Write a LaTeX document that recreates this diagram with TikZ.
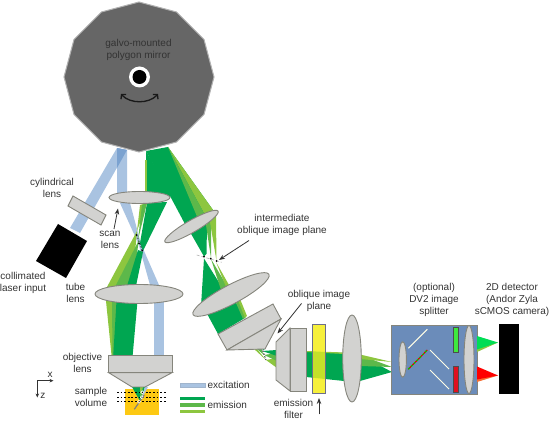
\documentclass[tikz,border=0pt]{standalone}
\usepackage{fontspec}
\setmainfont{Liberation Sans}
\usetikzlibrary{arrows.meta}
\definecolor{gdark}{HTML}{00A651}
\definecolor{gmid}{HTML}{5DB84A}
\definecolor{glight}{HTML}{8DC63F}
\definecolor{exc}{HTML}{A9C3E1}
\definecolor{excd}{HTML}{7BA2D0}
\definecolor{optic}{HTML}{D2D2D0}
\definecolor{edge}{HTML}{85857C}
\definecolor{txt}{HTML}{333333}
\definecolor{split}{HTML}{6B8CBA}
\definecolor{filt}{HTML}{F6F03C}
\definecolor{filtg}{HTML}{C4E02A}
\tikzset{
  lbl/.style={font=\fontsize{10}{12}\selectfont,text=txt,align=center,inner sep=0pt},
  optics/.style={fill=optic,draw=edge,line width=0.9pt},
  note/.style={draw=txt,line width=0.8pt,-{Stealth[length=6pt,width=4.5pt]}},
  dk/.style={fill=gdark},md/.style={fill=gmid},lt/.style={fill=glight},
  blu/.style={fill=exc},
  plane/.style={black,line width=0.6pt,dash pattern=on 1.5pt off 1.5pt},
  mirrorline/.style={draw=white!90!yellow,line width=1pt}
}
\begin{document}
\begin{tikzpicture}[x=1pt,y=-1pt]
\useasboundingbox (0,0) rectangle (550,422);
% excitation
\fill[blu] (117,148)--(127,150)--(80,233)--(70,228)--cycle;
\fill[blu] (117,148)--(127,150)--(127,198)--(117,198)--cycle;
\fill[excd] (117,148)--(127,150)--(117,168)--cycle;
\fill[blu] (120,203)--(130,203)--(141,244)--(159,285)--(150,285)--(138.5,244)--cycle;
\fill[blu] (154,298)--(164,298)--(164,356)--(154,356)--cycle;
% emission, upper left branch
\fill[dk] (146,151)--(172,196)--(146,198)--cycle;
\fill[lt] (145,160)--(146.5,160)--(146.5,198)--(145,198)--cycle;
\fill[dk] (147,203)--(167,202)--(143,251)--(140,243)--cycle;
\fill[lt] (140,205)--(147,203)--(137,231)--cycle;
\fill[md] (142,205)--(147,203)--(138,240)--cycle;
% left branch below crossing
\fill[lt] (137,231)--(132,286)--(107,287)--cycle;
\fill[md] (139,240)--(132,286)--(115,287)--cycle;
\fill[dk] (138,250)--(143,252)--(136,286)--(127,286)--cycle;
% tube to objective
\fill[lt] (106,301)--(114,301)--(113,355)--(111.5,355)--cycle;
\fill[md] (112,301)--(118,301)--(114,355)--(112.5,355)--cycle;
\fill[dk] (116.5,301)--(137.5,301)--(132.7,355)--(113.3,355)--cycle;
% right branch down to lens 2
\fill[dk] (146,151)--(168,147)--(213,210)--(185,224)--cycle;
\fill[lt] (168,147)--(213,210)--(205,215)--cycle;
\fill[md] (168,147)--(205,215)--(198,219)--cycle;
% lens 2 to intermediate plane
\fill[dk] (182,218)--(207,225)--(206.5,254)--(204,256.5)--cycle;
\fill[md] (206,225)--(211,220)--(211,258)--cycle;
\fill[lt] (210,222)--(216,215)--(216.5,261)--cycle;
% intermediate plane to lens 3
\fill[dk] (204,258.5)--(225,292)--(201,306)--cycle;
\fill[md] (211,259)--(227,286)--(221,290)--cycle;
\fill[lt] (216,262)--(229,285)--(226,287)--cycle;
% lens 3 to objective 2
\fill[dk] (205,310)--(232,296)--(245,318)--(218,334)--cycle;
\fill[md] (233,296)--(236,294)--(246,317)--(243,319)--cycle;
\fill[lt] (236,295)--(238,294)--(247,316)--(245,318)--cycle;
% nose of objective 2 to objective 3
\fill[lt] (253,348)--(257,349)--(266,360)--cycle;
\fill[md] (257,349)--(261,349)--(264,355)--cycle;
\fill[dk] (261,349)--(265,349)--(262,351)--cycle;
\fill[lt] (266,360)--(277,358)--(277,368)--cycle;
\fill[md] (264,355)--(277,353)--(277,361)--cycle;
\fill[dk] (262,351)--(277,350)--(277,356)--cycle;
% filter beam
\fill[dk] (306,351)--(344,353)--(344,381)--(306,377)--cycle;
\fill[lt] (306,351)--(344,352.5)--(344,354)--(306,352)--cycle;
% beam after lens 4
\fill[dk] (360,355)--(392,372)--(360,381)--cycle;
\fill[md] (360,355)--(392,367)--(360,366)--cycle;
\fill[lt] (360,354.5)--(392,362)--(360,359)--cycle;
% scan-crossing planes
\draw[plane] (136.7,235)--(142.3,250.7);
\fill (136.7,235) circle (1) (139,243.3) circle (1) (142.3,250.7) circle (1);
\draw[gray!60,line width=0.6pt,dash pattern=on 3pt off 2pt] (196.7,255)--(221.7,262.3);
\fill (204,256.7) circle (1) (210.7,258.7) circle (1) (216.7,261) circle (1);
\draw[white,line width=1pt] (261.7,347.7)--(266,360);
\draw[plane,line width=0.8pt] (261.7,347.7)--(266,360);
% lenses
\draw[optics] (139.5,197.5) ellipse [x radius=30.5,y radius=6];
\draw[optics] (139,294) ellipse [x radius=44,y radius=9.5];
\draw[optics,rotate around={30:(191.5,226.5)}] (191.5,226.5) ellipse [x radius=30.7,y radius=6];
\draw[optics,rotate around={28:(231,294.5)}] (231,294.5) ellipse [x radius=43,y radius=9.5];
\draw[optics] (73,196)--(106,215)--(101,225)--(68,206)--cycle;
% sample
\fill[fill={rgb,255:red,253;green,201;blue,19}] (125,389) rectangle (159,415);
\fill[dk] (132,387)--(145,387)--(140,401)--cycle;
\fill[lt] (140,387)--(143,387)--(140.5,399)--cycle;
\fill[blu] (145,387)--(148,387)--(140.5,401)--cycle;
\draw[gray,line width=1.2pt] (144.3,395)--(134.3,409.3);
\draw[black,line width=0.7pt,dash pattern=on 1.8pt off 1.8pt] (117,392)--(167,392) (117,397)--(167,397) (117,401.5)--(167,401.5);
\draw[white,line width=0.5pt] (142.3,392.3) circle (1.5) (141.7,397.3) circle (1.5) (139,401.7) circle (1.5);
% objective 1
\draw[optics] (108.7,355) rectangle (172,372.7);
\draw[optics] (108.7,372.7)--(172,372.7)--(145,387)--(132,387)--cycle;
% objective 2
\draw[optics] (218,334)--(273,304)--(281,319)--(227,350)--cycle;
\draw[optics] (227,350)--(265,349)--(281,319)--cycle;
% objective 3
\draw[optics] (290,328) rectangle (306.7,391);
\draw[optics] (290,328)--(276,342)--(276,380)--(290,391)--cycle;
% filter
\fill[filt] (312.7,324.3) rectangle (325,394);
\fill[filtg] (312.7,351.3)--(325,352)--(325,379)--(312.7,377.7)--cycle;
\draw[draw={rgb,255:red,109;green,110;blue,138},line width=1pt] (312.7,324.3) rectangle (325,394);
% lens 4
\draw[optics] (352,358.5) ellipse [x radius=9.3,y radius=43.5];
% splitter
\draw[fill=split,draw=edge,line width=0.9pt] (391.7,325) rectangle (477,394);
\draw[optics] (402.7,359.5) ellipse [x radius=3.7,y radius=17.8];
\draw[mirrorline] (408.3,348.3)--(427.3,329.3);
\draw[mirrorline] (430,350)--(449,369);
\draw[mirrorline] (430,370)--(449,389);
\draw[red!90!black,line width=1.2pt] (408.3,369.3)--(427.3,350);
\draw[green!80!black,line width=1.2pt,dash pattern=on 2pt off 2pt] (408.3,369.3)--(427.3,350);
\draw[fill={rgb,255:red,62;green,232;blue,62},draw=black!70,line width=0.8pt] (453.3,327.3) rectangle (458.3,352.3);
\draw[fill={rgb,255:red,224;green,16;blue,32},draw=black!70,line width=0.8pt] (453.3,366.7) rectangle (458.3,392);
\draw[optics] (469,359.5) ellipse [x radius=5,y radius=34];
% output cones
\fill[fill=glight] (477,342)--(498,342.5)--(477,352)--cycle;
\fill[fill={rgb,255:red,0;green,221;blue,85}] (477,336)--(498,342.5)--(477,349.5)--cycle;
\fill[fill={rgb,255:red,245;green,110;blue,50}] (477,370)--(498,375.5)--(477,382)--cycle;
\fill[red] (477,366.5)--(498,375.5)--(477,379.5)--cycle;
\fill[black] (499.3,324.3) rectangle (519,394.3);
% laser
\fill[black] (58,224)--(87,241)--(66,278)--(36,261)--cycle;
% mirror
\draw[fill={rgb,255:red,102;green,102;blue,102},draw=black!30,line width=1pt]
  (139,2)--(176.5,12)--(204,39.5)--(214,77)--(204,114.5)--(176.5,142)--(139,152)--(101.5,142)--(74,114.5)--(64,77)--(74,39.5)--(101.5,12)--cycle;
\fill[white] (139.5,77) circle (10.5);
\fill[black] (139.5,77) circle (7);
\draw[black!90,line width=1.3pt,{Straight Barb[length=3pt,width=7pt]}-{Straight Barb[length=3pt,width=7pt]}] (121,94) .. controls (130,104) and (149,104) .. (158,94);
% axes
\coordinate (axo) at (37.3,380.7);
\coordinate (axx) at (53.5,380.7);
\coordinate (axz) at (37.3,397.5);
\draw[draw=txt,line width=0.7pt,-{Stealth[length=4pt,width=3.5pt]}] (axo)--(axx);
\draw[draw=txt,line width=0.7pt,-{Stealth[length=4pt,width=3.5pt]}] (axo)--(axz);
\node[lbl] (tx) at (50,375) {x};
\node[lbl] (tz) at (43,395.5) {z};
% legend
\fill[fill=exc,draw=exc!80!gray,line width=0.5pt] (180,383.3) rectangle (205,387);
\fill[dk] (180,397) rectangle (205,400);
\fill[md] (180,403.5) rectangle (205,407);
\fill[lt] (180,410) rectangle (205,413.3);
% labels
\node[lbl] (mirr) at (138.5,50) {galvo-mounted\\polygon mirror};
\node[lbl] (cyl) at (52,188) {cylindrical\\lens};
\node[lbl] (scan) at (110,240) {scan\\lens};
\node[lbl] (coll) at (23,283) {collimated\\laser input};
\node[lbl] (tube) at (75.5,292.5) {tube\\lens};
\node[lbl] (obj) at (82.5,362.5) {objective\\lens};
\node[lbl] (samp) at (91,396.5) {sample\\volume};
\node[lbl,anchor=west] (lexc) at (207.3,385) {excitation};
\node[lbl,anchor=west] (lem) at (207.3,405) {emission};
\node[lbl] (inter) at (282,225) {intermediate\\oblique image plane};
\node[lbl] (oip) at (319,301) {oblique image\\plane};
\node[lbl] (filtl) at (293.5,409) {emission\\filter};
\node[lbl] (dv) at (434,300) {(optional)\\DV2 image\\splitter};
\node[lbl] (det) at (512,300) {2D detector\\(Andor Zyla\\sCMOS camera)};
% pointers
\coordinate (a1) at (114,229); \coordinate (a2) at (118,208.5);
\coordinate (b1) at (249,240.5); \coordinate (b2) at (219,260);
\coordinate (c1) at (301.5,303.5); \coordinate (c2) at (277.5,333.5);
\coordinate (d1) at (319,414.5); \coordinate (d2) at (319,398);
\draw[note] (a1)--(a2);
\draw[note] (b1)--(b2);
\draw[note] (c1)--(c2);
\draw[note] (d1)--(d2);
\end{tikzpicture}
\end{document}
